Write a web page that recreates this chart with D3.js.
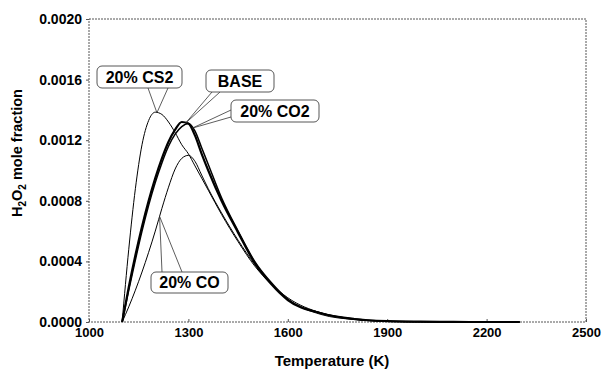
<!DOCTYPE html>
<html>
<head>
<meta charset="utf-8">
<script src="https://cdn.jsdelivr.net/npm/d3@7"></script>
<style>
  html, body { margin: 0; padding: 0; background: #fff; }
  svg { display: block; font-family: "Liberation Sans", Arial, Helvetica, sans-serif; }
</style>
</head>
<body>
<svg id="chart" width="605" height="369"></svg>
<script>
// Temperature grid (K) shared by every profile
const temperature = [1100, 1120, 1140, 1160, 1180, 1200, 1220, 1240, 1260, 1280, 1300, 1320, 1340, 1360,
                     1400, 1450, 1500, 1550, 1600, 1700, 1800, 1900, 2000, 2100, 2200, 2300];

// H2O2 mole fraction for each fuel mixture
const base = [0, 0.00023, 0.00044, 0.00063, 0.00080, 0.00095, 0.00108, 0.00119, 0.00127, 0.00132, 0.00131, 0.00123, 0.00111, 0.00100,
              0.00080, 0.00059, 0.00039, 0.00025, 0.000145, 0.000058, 0.00002, 0.000006, 0.000002, 0.0000005, 0, 0];
const co2  = [0, 0.00021, 0.00041, 0.00060, 0.00077, 0.00092, 0.00105, 0.00116, 0.00124, 0.00129, 0.00131, 0.00126, 0.00115, 0.00104,
              0.00082, 0.00060, 0.00040, 0.00026, 0.00015, 0.00006, 0.00002, 0.000006, 0.000002, 0.0000005, 0, 0];
const cs2  = [0, 0.00048, 0.00088, 0.00117, 0.00133, 0.001385, 0.00137, 0.00132, 0.00125, 0.00117, 0.00111, 0.00103, 0.00095, 0.00087,
              0.00071, 0.00053, 0.00037, 0.00025, 0.00016, 0.00006, 0.00002, 0.000005, 0.000001, 0, 0, 0];
const co   = [0, 0.00010, 0.00021, 0.00033, 0.00046, 0.00060, 0.00075, 0.00089, 0.00101, 0.00108, 0.00110, 0.00106, 0.00097, 0.00088,
              0.00072, 0.00054, 0.00038, 0.00025, 0.00015, 0.00005, 0.000016, 0.000005, 0.0000015, 0, 0, 0];

// Axis ticks
const xTicks = [1000, 1300, 1600, 1900, 2200, 2500];
const yTicks = [0, 0.0004, 0.0008, 0.0012, 0.0016, 0.0020];

const series = [
  { name: "20% CS2", values: cs2,  width: 1.0 },
  { name: "20% CO",  values: co,   width: 1.0 },
  { name: "20% CO2", values: co2,  width: 1.5 },
  { name: "BASE",    values: base, width: 2.2 }
];

const svg = d3.select("#chart");
const plotLeft = 89, plotRight = 586, plotTop = 19, plotBottom = 322;

const x = d3.scaleLinear().domain([1000, 2500]).range([plotLeft, plotRight]);
const y = d3.scaleLinear().domain([0, 0.002]).range([plotBottom, plotTop]);

// Plot frame (fine dotted border)
svg.append("rect")
  .attr("x", plotLeft).attr("y", plotTop)
  .attr("width", plotRight - plotLeft).attr("height", plotBottom - plotTop)
  .attr("fill", "none").attr("stroke", "#555").attr("stroke-width", 1)
  .attr("stroke-dasharray", "2,1");

// Axes
const xAxis = svg.append("g").attr("transform", `translate(0,${plotBottom})`)
  .call(d3.axisBottom(x).tickValues(xTicks).tickSize(-3).tickPadding(6).tickFormat(d3.format("d")));
const yAxis = svg.append("g").attr("transform", `translate(${plotLeft},0)`)
  .call(d3.axisLeft(y).tickValues(yTicks).tickSize(3).tickPadding(4).tickFormat(d3.format(".4f")));

[xAxis, yAxis].forEach(g => {
  g.select(".domain").remove();
  g.selectAll(".tick line").attr("stroke", "#555");
  g.selectAll(".tick text")
    .attr("fill", "#000").attr("font-weight", "bold")
    .attr("font-family", "'Liberation Sans', Arial, sans-serif");
});
xAxis.selectAll(".tick text").attr("font-size", 13);
yAxis.selectAll(".tick text").attr("font-size", 14);

// Axis titles
svg.append("text")
  .attr("x", 332).attr("y", 366)
  .attr("text-anchor", "middle").attr("font-size", 15).attr("font-weight", "bold")
  .text("Temperature (K)");

const yt = svg.append("text")
  .attr("transform", "translate(22,153) rotate(-90)")
  .attr("text-anchor", "middle").attr("font-size", 14.5).attr("font-weight", "bold");
yt.append("tspan").text("H");
yt.append("tspan").attr("font-size", 10).attr("dy", 4).text("2");
yt.append("tspan").attr("dy", -4).text("O");
yt.append("tspan").attr("font-size", 10).attr("dy", 4).text("2");
yt.append("tspan").attr("dy", -4).text(" mole fraction");

// Curves
const line = d3.line()
  .x(d => x(d[0])).y(d => y(d[1]))
  .curve(d3.curveMonotoneX);

series.forEach(s => {
  svg.append("path")
    .datum(temperature.map((t, i) => [t, s.values[i]]))
    .attr("fill", "none").attr("stroke", "#000")
    .attr("stroke-width", s.width).attr("stroke-linejoin", "round")
    .attr("d", line);
});

// Value of a profile at temperature t (linear between grid points)
function valueAt(values, t) {
  const i = Math.max(1, d3.bisectLeft(temperature, t));
  const t0 = temperature[i - 1], t1 = temperature[i];
  const f = (t - t0) / (t1 - t0);
  return values[i - 1] + f * (values[i] - values[i - 1]);
}

// Callout labels: rounded box with a wedge pointing at the curve
const callouts = [
  { name: "20% CS2", values: cs2,  t: 1205, box: [97, 66, 85, 22],  wedge: [[148, 88], [168, 88]] },
  { name: "BASE",    values: base, t: 1292, box: [206, 70, 68, 22], wedge: [[212, 92], [220, 92]] },
  { name: "20% CO2", values: co2,  t: 1312, box: [231, 100, 88, 22], wedge: [[231, 110], [231, 117]] },
  { name: "20% CO",  values: co,   t: 1213, box: [151, 272, 77, 21], wedge: [[162, 272], [182, 272]] }
];

callouts.forEach(c => {
  const tip = [x(c.t), y(valueAt(c.values, c.t))];
  const [bx, by, bw, bh] = c.box;
  const g = svg.append("g");
  g.append("path")
    .attr("d", `M${c.wedge[0][0]},${c.wedge[0][1]}L${tip[0]},${tip[1]}L${c.wedge[1][0]},${c.wedge[1][1]}`)
    .attr("fill", "none").attr("stroke", "#333").attr("stroke-width", 0.8);
  g.append("rect")
    .attr("x", bx).attr("y", by).attr("width", bw).attr("height", bh)
    .attr("rx", 5).attr("ry", 5)
    .attr("fill", "#fff").attr("stroke", "#444").attr("stroke-width", 0.9);
  g.append("text")
    .attr("x", bx + bw / 2).attr("y", by + bh / 2 + 5.5)
    .attr("text-anchor", "middle").attr("font-size", 16).attr("font-weight", "bold")
    .text(c.name);
});
</script>
</body>
</html>
